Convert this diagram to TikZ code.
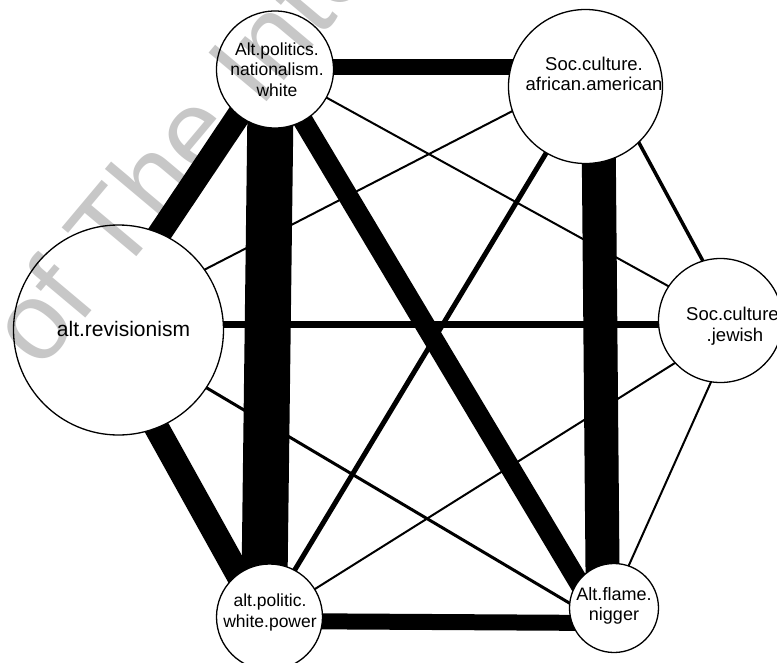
\documentclass[tikz,border=0pt]{standalone}
\usepackage{fontspec}
\setmainfont{Liberation Sans}
\begin{document}
\begin{tikzpicture}[x=1pt, y=-1pt,
        group/.style={circle, draw, line width=1.3pt, fill=white, inner sep=0pt},
        grouptext/.style={align=center, inner sep=0pt, font=\fontsize{#1}{20.5}\selectfont},
        tie/.style={line width=#1pt}]
        \useasboundingbox (0,0) rectangle (777,662);

        % points where the ties meet
        \coordinate (w) at (271,67);
        \coordinate (a) at (598,67);
        \coordinate (r) at (99,324);
        \coordinate (j) at (737,324);
        \coordinate (p) at (264,621);
        \coordinate (f) at (603,623);

        \draw[tie=2] (w) -- (j);
        \draw[tie=2] (a) -- (r);
        \draw[tie=2] (p) -- (j);
        \draw[tie=2] (f) -- (j);
        \draw[tie=3] (r) -- (f);
        \draw[tie=3.5] (a) -- (j);
        \draw[tie=5] (a) -- (p);
        \draw[tie=7] (r) -- (j);
        \draw[tie=16] (w) -- (a);
        \draw[tie=16] (p) -- (f);
        \draw[tie=20] (w) -- (f);
        \draw[tie=24] (w) -- (r);
        \draw[tie=25] (r) -- (p);
        \draw[tie=34] (a) -- (f);
        \draw[tie=46] (w) -- (p);

        \node[group, minimum size=117pt] (W) at (275,69.5) {};
        \node[group, minimum size=154pt] (A) at (585.5,86.5) {};
        \node[group, minimum size=210pt] (R) at (118.5,330) {};
        \node[group, minimum size=124pt] (J) at (720.5,320.5) {};
        \node[group, minimum size=106pt] (P) at (269.5,617) {};
        \node[group, minimum size=89pt] (F) at (614,608) {};

        \node[grouptext=17.5] (Wname) at (277,69.3) {Alt.politics.\\nationalism.\\white};
        \node[grouptext=18.5] (Aname) at (594,74) {Soc.culture.\\african.american};
        \node[grouptext=21, anchor=base] (Rname) at (123.5,336) {alt.revisionism};
        \node[grouptext=18.5] (Jname) at (735,326) {Soc.culture.\\.jewish};
        \node[grouptext=17.5] (Pname) at (270,612.6) {alt.politic.\\white.power};
        \node[grouptext=18] (Fname) at (614,605.7) {Alt.flame.\\nigger};

        \begin{scope}[blend mode=multiply]
            \node[text=black!22, rotate=50, anchor=base west, inner sep=0pt,
                font=\fontsize{110}{110}\selectfont] (mark) at (40,372) {of The Internet};
        \end{scope}
\end{tikzpicture}
\end{document}
